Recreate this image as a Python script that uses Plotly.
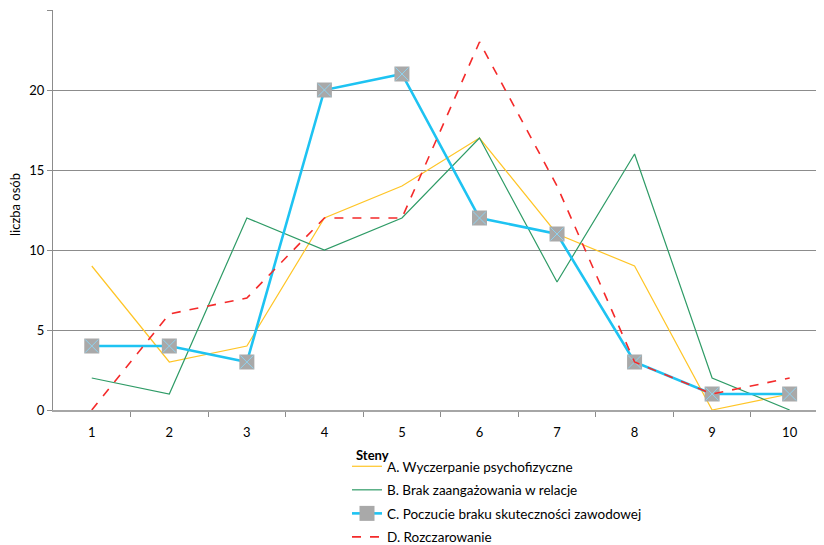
import plotly.graph_objects as go

steny = [1, 2, 3, 4, 5, 6, 7, 8, 9, 10]
a_vals = [9, 3, 4, 12, 14, 17, 11, 9, 0, 1]
b_vals = [2, 1, 12, 10, 12, 17, 8, 16, 2, 0]
c_vals = [4, 4, 3, 20, 21, 12, 11, 3, 1, 1]
d_vals = [0, 6, 7, 12, 12, 23, 14, 3, 1, 2]

names = ["A. Wyczerpanie psychofizyczne",
         "B. Brak zaangażowania w relacje",
         "C. Poczucie braku skuteczności zawodowej",
         "D. Rozczarowanie"]

FONT = "Lato"
W, H = 824, 545
OFF = 8  # page body margin offset

fig = go.Figure()
fig.add_trace(go.Scatter(x=steny, y=a_vals, mode="lines", name=names[0],
                         line=dict(color="#FFC526", width=1.2), legendgroup="a"))
fig.add_trace(go.Scatter(x=steny, y=b_vals, mode="lines", name=names[1],
                         line=dict(color="#2E9B66", width=1.2), legendgroup="b"))
fig.add_trace(go.Scatter(x=steny, y=c_vals, mode="lines+markers", name=names[2],
                         line=dict(color="#1EC3F2", width=2.6),
                         marker=dict(symbol="square", size=15, color="#A9A9A9",
                                     line=dict(width=0)), legendgroup="c"))
fig.add_trace(go.Scatter(x=steny, y=c_vals, mode="markers", showlegend=False,
                         marker=dict(symbol="x-thin", size=13,
                                     line=dict(color="#8FD3F0", width=1)),
                         hoverinfo="skip", legendgroup="c"))
fig.add_trace(go.Scatter(x=steny, y=d_vals, mode="lines", name=names[3],
                         line=dict(color="#F42A2A", width=1.6, dash="dash"), legendgroup="d"))

fig.update_layout(
    width=W, height=H,
    margin=dict(l=53 - OFF, r=W - (823 - OFF), t=10 - OFF, b=H - (410 - OFF), autoexpand=False),
    paper_bgcolor="white", plot_bgcolor="white",
    font=dict(family=FONT, size=13, color="#000000"),
    showlegend=True,
    legend=dict(xref="container", yref="container",
                x=(347 - OFF) / W, xanchor="left", y=1 - (451 - OFF) / H, yanchor="top",
                font=dict(family=FONT, size=13.5, color="#000000"),
                tracegroupgap=3, traceorder="grouped",
                bgcolor="rgba(0,0,0,0)"),
    xaxis=dict(range=[0.5, 10.43], tickmode="array", tickvals=steny,
               ticktext=[str(s) for s in steny], automargin=False,
               ticks="outside", ticklen=9, tickcolor="rgba(0,0,0,0)",
               showgrid=False, zeroline=False,
               showline=True, linecolor="#A6A6A6", linewidth=2,
               tickfont=dict(family=FONT, size=13),
               minor=dict(tickmode="array", tickvals=[1.5, 2.5, 3.5, 4.5, 5.5, 6.5, 7.5, 8.5, 9.5],
                          ticks="outside", ticklen=5, tickcolor="#8C8C8C", showgrid=False)),
    yaxis=dict(range=[0, 25], tickvals=[0, 5, 10, 15, 20, 25], automargin=False,
               ticks="outside", ticklen=5, tickcolor="#8C8C8C",
               showgrid=True, gridcolor="#8C8C8C", gridwidth=1,
               zeroline=False, showline=True, linecolor="#8C8C8C", linewidth=1,
               tickfont=dict(family=FONT, size=13)),
    annotations=[
        dict(text="<b>Steny</b>", x=(372 - 53) / 770, y=-(455 - 410) / 400,
             xref="paper", yref="paper", showarrow=False,
             font=dict(family=FONT, size=13), xanchor="center", yanchor="middle"),
        dict(text="liczba osób", x=0, y=(410 - 205) / 400, xref="paper", yref="paper",
             xshift=-38, textangle=-90, showarrow=False,
             font=dict(family=FONT, size=13), xanchor="center", yanchor="middle"),
    ],
)

fig.write_html("out.html")
